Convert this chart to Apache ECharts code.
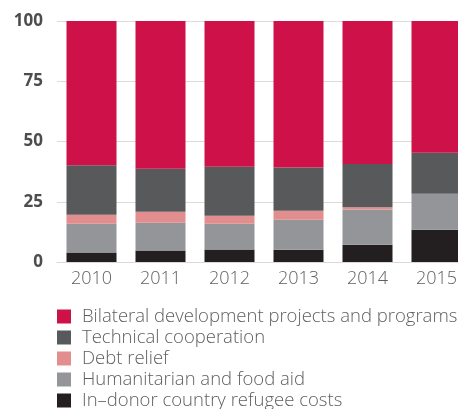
<!DOCTYPE html>
<html>
<head>
<meta charset="utf-8">
<script src="https://cdn.jsdelivr.net/npm/echarts@6/dist/echarts.min.js"></script>
<style>
  html, body { margin: 0; padding: 0; background: #fff; }
  #chart { width: 458px; height: 409px; }
</style>
</head>
<body>
<div id="chart"></div>
<script>
// Share of bilateral aid by type, percent of total per year
const years = ['2010', '2011', '2012', '2013', '2014', '2015'];
const yTicks = [0, 25, 50, 75, 100];

const refugeeCosts   = [3.9, 4.8, 5.2, 5.1, 7.2, 13.4];
const humanitarian   = [12.0, 11.5, 10.7, 12.4, 14.6, 14.9];
const debtRelief     = [3.7, 4.6, 3.3, 3.8, 0.9, 0];
const technicalCoop  = [20.5, 17.8, 20.3, 17.9, 18.0, 17.0];
const bilateralProj  = [59.9, 61.3, 60.5, 60.8, 59.3, 54.7];

const names = {
  bilateral: 'Bilateral development projects and programs',
  technical: 'Technical cooperation',
  debt: 'Debt relief',
  humanitarian: 'Humanitarian and food aid',
  refugee: 'In\u2013donor country refugee costs'
};

const colors = {
  bilateral: '#CE1148',
  technical: '#58595B',
  debt: '#E38E8E',
  humanitarian: '#939598',
  refugee: '#231F20'
};

const FONT = '"Open Sans", Lato, sans-serif';

function barSeries(key, data) {
  return {
    name: names[key],
    type: 'bar',
    stack: 'total',
    barWidth: 50,
    data: data,
    itemStyle: { color: colors[key] },
    emphasis: { disabled: true }
  };
}

const chart = echarts.init(document.getElementById('chart'), null, { renderer: 'canvas' });
chart.setOption({
  animation: false,
  backgroundColor: '#ffffff',
  // the last category runs past the right edge of the canvas
  grid: {
    left: 57, top: 21, height: 241, width: 414,
    containLabel: false,
    outerBoundsMode: 'none'
  },
  xAxis: {
    type: 'category',
    data: years,
    axisLine: { show: true, lineStyle: { color: '#d9d9d9', width: 1 } },
    axisTick: { show: false },
    axisLabel: {
      color: '#5f6062',
      fontFamily: FONT,
      fontWeight: 300,
      fontSize: 18,
      margin: 8
    }
  },
  yAxis: {
    type: 'value',
    min: yTicks[0],
    max: yTicks[yTicks.length - 1],
    interval: 25,
    axisLine: { show: false },
    axisTick: { show: false },
    splitLine: { lineStyle: { color: '#dcdcdc', width: 1 } },
    axisLabel: {
      color: '#4d4d4f',
      fontFamily: FONT,
      fontWeight: 'bold',
      fontSize: 17,
      margin: 14
    }
  },
  legend: {
    orient: 'vertical',
    left: 57,
    top: 307,
    height: 140,
    padding: 0,
    itemWidth: 14,
    itemHeight: 14,
    itemGap: 2,
    icon: 'rect',
    selectedMode: false,
    data: [names.bilateral, names.technical, names.debt, names.humanitarian, names.refugee],
    textStyle: {
      color: '#5f6062',
      fontFamily: FONT,
      fontWeight: 300,
      fontSize: 18.5,
      lineHeight: 14,
      padding: [0, 0, 0, 6]
    }
  },
  series: [
    barSeries('refugee', refugeeCosts),
    barSeries('humanitarian', humanitarian),
    barSeries('debt', debtRelief),
    barSeries('technical', technicalCoop),
    barSeries('bilateral', bilateralProj)
  ]
});
</script>
</body>
</html>
